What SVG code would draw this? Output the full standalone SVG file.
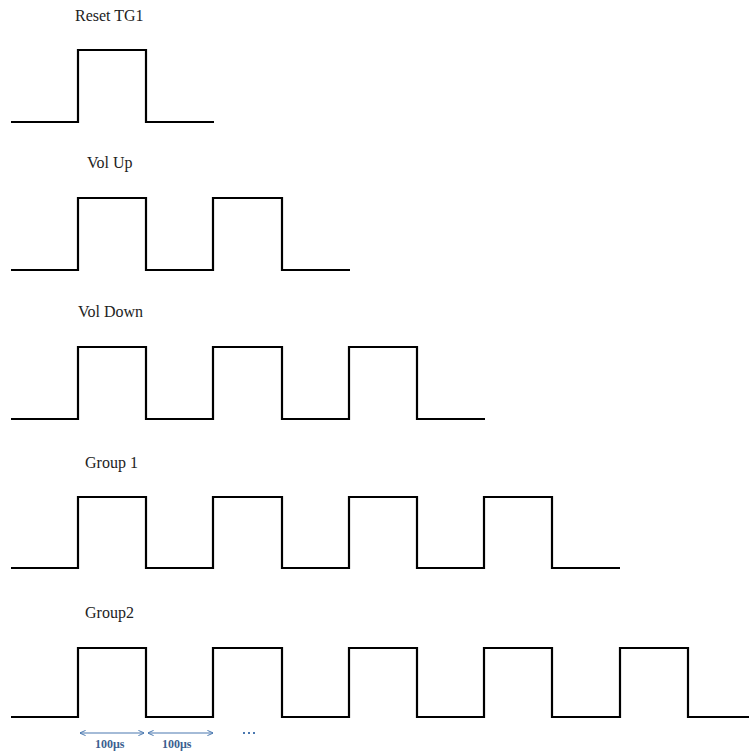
<svg xmlns="http://www.w3.org/2000/svg" width="749" height="755" viewBox="0 0 749 755">
<style>
.lbl{font-family:"Liberation Serif","Times New Roman",serif;font-size:16px;fill:#222}
.wave{fill:none;stroke:#000;stroke-width:2.2}
.dim{fill:none;stroke:#4a78b0;stroke-width:1.2}
.dimt{font-family:"Liberation Serif","Times New Roman",serif;font-size:12px;font-weight:bold;fill:#3c5f90}
</style>
<defs>
<marker id="ah" viewBox="0 0 8 8" refX="7.5" refY="4" markerWidth="6" markerHeight="6" orient="auto-start-reverse" markerUnits="userSpaceOnUse">
<path d="M0,0.5 L8,4 L0,7.5" fill="none" stroke="#4a78b0" stroke-width="1.3"/>
</marker>
</defs>
<rect width="749" height="755" fill="#fff"/>
<g id="reset-tg1">
<text class="lbl" x="75" y="21">Reset TG1</text>
<path class="wave" d="M11,122 H78 V50 H146 V122 H214"/>
</g>
<g id="vol-up">
<text class="lbl" x="87" y="168">Vol Up</text>
<path class="wave" d="M11,270 H78 V198 H146 V270 H213 V198 H282 V270 H350"/>
</g>
<g id="vol-down">
<text class="lbl" x="78" y="317">Vol Down</text>
<path class="wave" d="M11,419 H78 V347 H146 V419 H213 V347 H282 V419 H349 V347 H417 V419 H485"/>
</g>
<g id="group-1">
<text class="lbl" x="85" y="468">Group 1</text>
<path class="wave" d="M11,568 H78 V497 H146 V568 H213 V497 H282 V568 H349 V497 H417 V568 H484 V497 H552 V568 H620"/>
</g>
<g id="group2">
<text class="lbl" x="85" y="618">Group2</text>
<path class="wave" d="M11,717 H78 V648 H146 V717 H213 V648 H282 V717 H349 V648 H417 V717 H484 V648 H552 V717 H620 V648 H688 V717 H749"/>
</g>
<g id="connectors">
<line class="dim" x1="80" y1="733" x2="144" y2="733" marker-start="url(#ah)" marker-end="url(#ah)"/>
<line class="dim" x1="148" y1="733" x2="213" y2="733" marker-start="url(#ah)" marker-end="url(#ah)"/>
<line x1="243" y1="733" x2="258" y2="733" stroke="#4a78b0" stroke-width="2" stroke-dasharray="2,3"/>
</g>
<g id="labels">
<text class="dimt" x="95" y="748">100μs</text>
<text class="dimt" x="162" y="748">100μs</text>
</g>
</svg>
